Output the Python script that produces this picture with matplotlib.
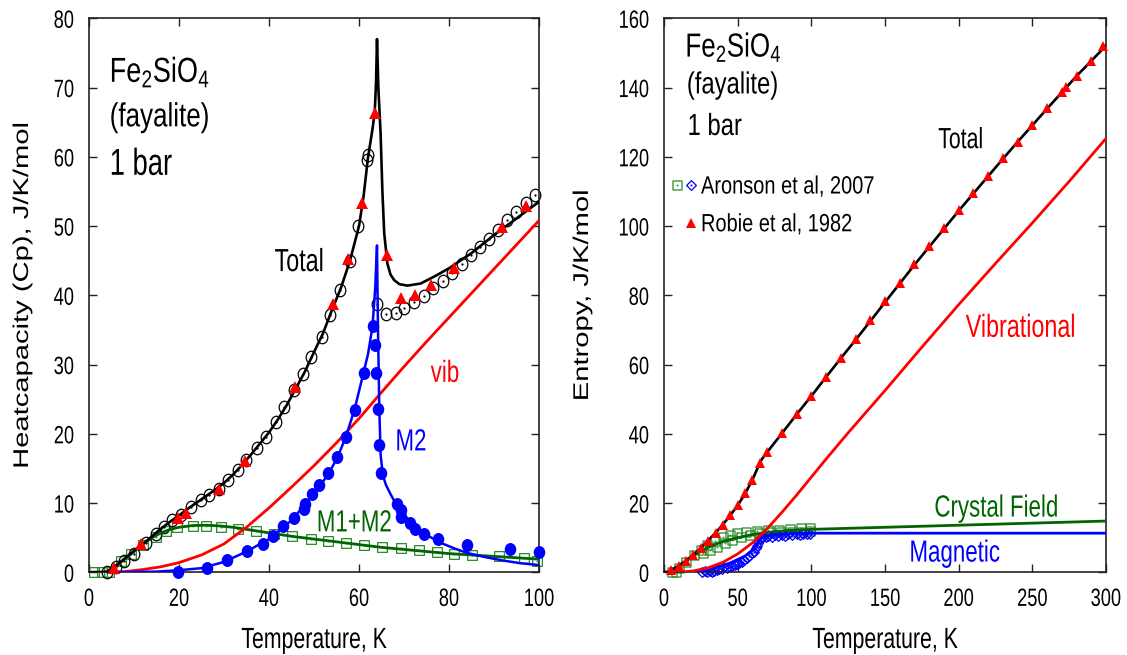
import numpy as np
import matplotlib
matplotlib.use("Agg")
import matplotlib.pyplot as plt
from matplotlib.patheffects import AbstractPathEffect
from matplotlib.transforms import Affine2D
from matplotlib.path import Path
from matplotlib.legend_handler import HandlerTuple
from matplotlib.lines import Line2D

plt.rcParams["font.family"] = ["Liberation Sans", "DejaVu Sans"]
plt.rcParams["mathtext.default"] = "regular"

# ---------------- left panel: heat capacity ----------------
# model curves
tot_T = [0, 3, 4, 6, 8, 10, 12, 14, 16, 18, 20, 22, 24, 26, 28, 30, 32, 34, 36, 38,
         40, 42, 44, 46, 48, 50, 52, 54, 56, 58, 60, 61, 62, 63, 63.5, 63.8, 64.0,
         64.3, 64.8, 65.2, 65.6, 66.3, 67.0, 67.8, 69, 70.8, 73.7, 77, 80, 85, 90, 95, 100]
tot_Cp = [0, 0, 0.1, 1.0, 2.0, 3.1, 4.1, 5.2, 6.3, 7.3, 8.2, 9.2, 10.1, 11.0, 11.9, 12.9,
          14.1, 15.5, 17.0, 18.6, 20.2, 22.1, 24.2, 26.6, 29.0, 31.8, 34.5, 37.9, 41.1,
          45.0, 50.0, 54.2, 59.9, 64.0, 66.5, 71.0, 77.0, 70.0, 63.4, 55.0, 49.0, 44.6,
          43.0, 42.2, 41.6, 41.4, 41.7, 42.8, 43.9, 46.1, 48.7, 51.1, 53.5]

vib_T = [0, 4, 8, 12, 16, 20, 25, 30, 35, 40, 45, 50, 55, 60, 65, 70, 75, 80, 85, 90, 95, 100]
vib_Cp = [0, 0, 0.1, 0.4, 0.8, 1.4, 2.5, 4.1, 6.5, 9.3, 12.3, 15.4, 18.7, 22.2, 26.0,
          29.7, 33.3, 36.8, 40.3, 43.8, 47.3, 50.8]

m2_T = [0, 5, 10, 15, 20, 25, 30, 35, 40, 45, 50, 53, 55, 57, 59, 61, 62, 63, 63.6, 64.0,
        64.2, 64.5, 64.8, 65.3, 66, 67, 68, 70, 72, 75, 78, 81, 84, 88, 92, 96, 100]
m2_Cp = [0, 0, 0.05, 0.1, 0.3, 0.6, 1.5, 3.0, 4.8, 7.5, 11.3, 14.0, 16.3, 19.4, 23.5,
         28.8, 31.5, 35.5, 41.0, 47.2, 36.0, 24.0, 17.0, 14.0, 12.6, 11.3, 10.1, 8.3,
         6.9, 5.4, 4.3, 3.5, 2.8, 2.2, 1.7, 1.3, 1.05]

cf_T = [0, 4, 6, 8, 10, 12, 14, 16, 18, 20, 23, 26, 29, 32, 36, 40, 45, 50, 55, 60, 65,
        70, 75, 80, 85, 90, 95, 100]
cf_Cp = [0, 0.05, 0.8, 2.0, 3.0, 4.1, 5.0, 5.7, 6.2, 6.5, 6.75, 6.8, 6.7, 6.5, 6.1, 5.7,
         5.2, 4.8, 4.4, 4.0, 3.6, 3.3, 3.0, 2.7, 2.5, 2.3, 2.1, 1.9]

# measured points
aro_T = [4.1, 5.9, 7.8, 10.0, 12.6, 14.8, 16.7, 18.5, 20.4, 22.6, 24.8, 26.7, 28.9, 30.8,
         33.0, 34.8, 37.4, 39.3, 41.5, 43.3, 45.6, 47.5, 49.4, 51.8, 53.6, 55.8, 58.0,
         59.8, 61.8, 61.9, 63.9, 65.9, 68.2, 70.1, 72.3, 74.5, 76.5, 78.7, 80.7, 82.9,
         84.9, 86.9, 88.9, 90.8, 92.8, 94.8, 97.0, 99.2]
aro_Cp = [0, 0.8, 1.6, 2.7, 4.3, 5.5, 6.6, 7.6, 8.3, 9.5, 10.4, 11.2, 12.1, 13.3, 14.8,
          16.2, 17.9, 19.6, 21.7, 23.9, 26.3, 28.6, 31.1, 34.0, 37.2, 40.7, 44.9, 50.0,
          59.6, 60.3, 38.7, 37.3, 37.5, 38.1, 39.0, 39.9, 41.0, 42.1, 43.2, 44.5, 45.8,
          47.0, 48.2, 49.5, 50.9, 52.1, 53.3, 54.5]

rob_T = [5.5, 11.5, 19.7, 21.6, 28.9, 34.7, 45.7, 54.2, 57.6, 60.7, 63.5, 66.3, 69.3,
         72.4, 76.1, 81.1, 91.8, 97.2]
rob_Cp = [0.6, 4.1, 7.9, 8.6, 12.0, 16.0, 26.8, 38.7, 45.2, 53.4, 66.3, 45.8, 39.6, 40.0,
          41.5, 44.0, 49.8, 52.9]

m2pt_T = [19.7, 26.2, 30.7, 35.1, 38.7, 40.8, 43.1, 45.5, 47.7, 48.1, 49.6, 51.0, 53.0,
          55.0, 57.2, 59.2, 61.1, 63.1, 63.5, 63.8, 64.2, 64.4, 64.8, 68.4, 69.3, 69.3,
          71.3, 72.4, 74.5, 77.5, 83.9, 93.6, 100.0]
m2pt_Cp = [0, 0.6, 1.8, 3.1, 4.1, 5.3, 6.7, 7.8, 9.2, 9.8, 11.3, 12.6, 14.3, 16.6, 19.6,
           23.5, 28.8, 35.5, 32.8, 28.8, 23.6, 18.4, 14.3, 9.8, 9.0, 8.0, 7.1, 6.2, 5.6,
           4.8, 3.9, 3.3, 2.9]

cfpt_T = [1.0, 2.8, 4.5, 7.0, 9.3, 11.9, 14.8, 17.0, 19.6, 23.0, 25.9, 29.3, 33.0, 37.0,
          41.1, 45.2, 49.3, 53.2, 57.0, 61.1, 65.2, 69.3, 73.3, 77.3, 81.1, 85.2, 91.1,
          96.7, 99.6]
cfpt_Cp = [0, 0, 0.1, 1.6, 2.7, 4.0, 5.1, 6.0, 6.6, 6.7, 6.7, 6.6, 6.2, 5.9, 5.6, 5.2,
           4.8, 4.5, 4.2, 3.9, 3.7, 3.5, 3.2, 2.9, 2.7, 2.5, 2.3, 2.0, 1.6]

# ---------------- right panel: entropy ----------------
stot_T = [0, 3, 5, 10, 15, 20, 25, 30, 35, 40, 45, 50, 55, 60, 63, 65, 67, 70, 80, 90,
          100, 110, 120, 130, 140, 150, 160, 170, 180, 190, 200, 210, 220, 230, 240, 250,
          260, 270, 280, 290, 300]
stot_S = [0, 0.1, 0.6, 1.9, 3.4, 5.0, 7.0, 9.2, 11.4, 13.8, 16.5, 19.3, 22.7, 26.7, 29.6,
          31.7, 33.0, 34.7, 40.1, 45.6, 50.9, 56.4, 61.8, 67.1, 72.5, 78.0, 83.4, 88.8,
          94.0, 99.2, 104.4, 109.4, 114.4, 119.4, 124.3, 129.1, 133.9, 138.6, 143.3,
          147.7, 152.1]

svib_T = [0, 10, 20, 30, 40, 50, 60, 70, 80, 90, 100, 110, 125, 150, 175, 200, 225, 250,
          275, 300]
svib_S = [0, 0.05, 0.4, 1.3, 2.9, 5.3, 8.5, 12.6, 17.3, 22.3, 27.5, 32.7, 40.3, 52.5,
          65.0, 77.3, 89.2, 100.9, 112.9, 125.3]

scf_T = [0, 3, 5, 10, 15, 20, 25, 30, 35, 40, 50, 60, 70, 80, 90, 100, 150, 200, 250, 300]
scf_S = [0, 0, 0.4, 1.8, 3.2, 4.8, 6.1, 7.2, 8.1, 8.9, 10.0, 10.9, 11.5, 11.9, 12.2,
         12.4, 13.0, 13.6, 14.2, 14.8]

smag_T = [0, 20, 25, 30, 35, 40, 45, 50, 55, 60, 63, 65, 67, 72, 85, 100, 300]
smag_S = [0, 0.05, 0.2, 0.6, 1.3, 2.0, 2.7, 3.7, 4.7, 6.3, 7.9, 9.6, 10.3, 10.8, 11.2,
          11.3, 11.3]

srob_T = [5, 10, 15, 20, 25, 30, 35, 40, 45, 50, 55, 60, 65, 70, 80, 90, 100, 110, 120,
          130, 140, 150, 160, 170, 180, 190, 200, 210, 220, 230, 240, 250, 260, 270,
          273.15, 280, 290, 298.15]
srob_S = [0.7, 1.8, 3.4, 5.0, 6.9, 9.1, 11.3, 13.7, 16.5, 19.4, 22.8, 26.7, 31.7, 34.7,
          40.1, 45.6, 50.9, 56.5, 61.8, 67.3, 72.8, 78.4, 83.6, 89.0, 94.2, 99.3, 104.6,
          109.6, 114.5, 119.6, 124.4, 129.2, 134.0, 138.8, 140.1, 143.3, 147.7, 152.0]

scfpt_T = [5.5, 7.9, 10.3, 15.2, 20.2, 25.0, 29.5, 34.4, 39.8, 44.8, 49.7, 55.8, 63.2,
           70.6, 77.9, 85.3, 92.7, 98.8]
scfpt_S = [0.2, 0, 1.2, 3.1, 5.0, 6.4, 7.9, 9.1, 10.1, 10.8, 11.3, 11.7, 12.0, 12.2,
           12.3, 12.4, 12.7, 12.7]
scfpt2_T = [26.3, 31.2, 36.1, 41.1, 46.0, 52.1, 58.3, 64.4, 71.8, 79.2, 86.6, 93.9, 98.8]
scfpt2_S = [5.5, 6.4, 7.4, 8.6, 9.3, 10.1, 10.8, 11.3, 11.6, 11.6, 11.7, 11.7, 12.0]

smagpt_T = [25.6, 29.0, 32.4, 35.8, 39.2, 42.6, 46.0, 49.4, 52.7, 56.1, 59.5, 62.5, 64.0,
            65.2, 67.4, 70.8, 75.4, 79.9, 84.4, 90.1, 94.6, 99.1]
smagpt_S = [0, 0, 0.2, 0.7, 1.0, 1.3, 1.8, 2.4, 3.1, 4.2, 5.5, 6.9, 8.4, 9.6, 10.3, 10.5,
            10.8, 10.8, 11.0, 11.1, 11.1, 11.2]
smagpt2_T = [27.5, 31, 34, 37.5, 41, 44.5, 48, 51, 54.5, 58, 61, 63, 66, 69, 73, 77.5, 82,
             87, 92, 97]
smagpt2_S = [0.3, 0.5, 0.4, 0.9, 1.5, 1.6, 2.0, 2.8, 3.5, 4.6, 6.0, 7.5, 10.0, 10.1, 10.3,
             10.5, 10.6, 10.8, 10.8, 11.0]

RED = "#ff0000"
BLUE = "#0000ff"
GREEN = "#006400"
GREEN_PT = "#2a8a2a"
SX = 0.73


class Squeeze(AbstractPathEffect):
    """Narrow glyphs horizontally (the original output was squashed sideways)."""

    def __init__(self, anchor=None, sx=SX):
        super().__init__()
        self.anchor = anchor
        self.sx = sx

    def draw_path(self, renderer, gc, tpath, affine, rgbFace=None):
        if self.anchor is None:
            x0 = affine.transform_point((0, 0))[0]
        else:
            ext = tpath.get_extents(affine)
            x0 = ext.x0 + self.anchor * ext.width
        sq = Affine2D().translate(-x0, 0).scale(self.sx, 1).translate(x0, 0)
        renderer.draw_path(gc, tpath, affine + sq, rgbFace)


def with_dot(base):
    return Path.make_compound_path(base, Path.circle((0, 0), 0.08))


ellipse = Path.unit_circle().transformed(Affine2D().scale(0.85, 1))
CIRC_DOT = with_dot(ellipse)
BLOB = Path.unit_circle().transformed(Affine2D().scale(0.88, 1))
SQ_DOT = with_dot(Path([(-1, -1), (1, -1), (1, 1), (-1, 1), (-1, -1)],
                       [Path.MOVETO, Path.LINETO, Path.LINETO, Path.LINETO, Path.CLOSEPOLY]))
DI_DOT = with_dot(Path([(0, -1), (1, 0), (0, 1), (-1, 0), (0, -1)],
                       [Path.MOVETO, Path.LINETO, Path.LINETO, Path.LINETO, Path.CLOSEPOLY]))


def label(ax, x, y, s, size, color="black", ha="left", sx=SX):
    t = ax.text(x, y, s, fontsize=size, color=color, ha=ha, va="baseline")
    t.set_path_effects([Squeeze(anchor=None if ha == "left" else 0.5, sx=sx)])
    return t


def style_axes(ax, xlab, ylab, ylab_x):
    ax.tick_params(direction="in", top=True, right=True, length=5.5, width=1.0,
                   labelsize=18, pad=10.5, color="#222222")
    for sp in ax.spines.values():
        sp.set_linewidth(1.2)
        sp.set_color("#222222")
    ax.set_xlabel(xlab, fontsize=21)
    ax.xaxis.label.set_va("baseline")
    ax.xaxis.set_label_coords(0.5, -0.1366)
    ax.set_ylabel(ylab, fontsize=21)
    ax.yaxis.label.set_va("baseline")
    ax.yaxis.set_label_coords(ylab_x, 0.5)
    ax.xaxis.label.set_path_effects([Squeeze(anchor=0.5)])
    ax.yaxis.label.set_path_effects([Squeeze(anchor=None)])
    for t in ax.get_xticklabels():
        t.set_path_effects([Squeeze(anchor=0.5)])
    for t in ax.get_yticklabels():
        t.set_path_effects([Squeeze(anchor=1.0)])


fig = plt.figure(figsize=(11.27, 6.55), dpi=100)
ax1 = fig.add_axes([89 / 1127, 82.7 / 655, 450 / 1127, 554 / 655])
ax2 = fig.add_axes([664 / 1127, 82.7 / 655, 442 / 1127, 554 / 655])

# ---- left ----
ax1.plot(cfpt_T, cfpt_Cp, ls="none", marker=SQ_DOT, ms=7, mfc="none", mec=GREEN_PT,
         mew=0.9, clip_on=False, zorder=2)
ax1.plot(aro_T, aro_Cp, ls="none", marker=CIRC_DOT, ms=9, mfc="none", mec="black",
         mew=0.9, clip_on=False, zorder=2)
ax1.plot(cf_T, cf_Cp, color=GREEN, lw=2.0, zorder=3)
ax1.plot(vib_T, vib_Cp, color=RED, lw=2.0, zorder=3)
ax1.plot(m2_T, m2_Cp, color=BLUE, lw=1.8, zorder=3)
ax1.plot(tot_T, tot_Cp, color="black", lw=1.9, zorder=3)
ax1.plot(m2pt_T, m2pt_Cp, ls="none", marker=BLOB, ms=8.3, color=BLUE, clip_on=False, zorder=4)
ax1.plot(rob_T, rob_Cp, ls="none", marker="^", ms=9, color=RED, mew=0, clip_on=False,
         zorder=5)

ax1.set_xlim(0, 100)
ax1.set_ylim(0, 80)
ax1.set_xticks(range(0, 101, 20))
ax1.set_yticks(range(0, 81, 10))
style_axes(ax1, "Temperature, K", "Heatcapacity (Cp), J/K/mol", -0.1356)

label(ax1, 4.6, 70.8, r"Fe$_2$SiO$_4$", 25, sx=0.78)
label(ax1, 4.6, 64.4, "(fayalite)", 24, sx=0.78)
label(ax1, 4.6, 57.4, "1 bar", 27)
label(ax1, 46.8, 43.5, "Total", 23, ha="center")
label(ax1, 79.1, 27.5, "vib", 22, color=RED, ha="center")
label(ax1, 71.5, 17.6, "M2", 22, color=BLUE, ha="center")
label(ax1, 58.9, 5.9, "M1+M2", 22, color=GREEN, ha="center")

# ---- right ----
ax2.plot(scfpt_T, scfpt_S, ls="none", marker=SQ_DOT, ms=6.5, mfc="none", mec=GREEN_PT,
         mew=0.9, clip_on=False, zorder=2)
ax2.plot(scfpt2_T, scfpt2_S, ls="none", marker=SQ_DOT, ms=6.5, mfc="none", mec=GREEN_PT,
         mew=0.9, clip_on=False, zorder=2)
ax2.plot(smagpt_T, smagpt_S, ls="none", marker=DI_DOT, ms=7, mfc="none", mec=BLUE,
         mew=0.9, clip_on=False, zorder=2)
ax2.plot(smagpt2_T, smagpt2_S, ls="none", marker=DI_DOT, ms=7, mfc="none", mec=BLUE,
         mew=0.9, clip_on=False, zorder=2)
ax2.plot(scf_T, scf_S, color=GREEN, lw=2.0, zorder=3)
ax2.plot(smag_T, smag_S, color=BLUE, lw=2.0, zorder=3)
ax2.plot(svib_T, svib_S, color=RED, lw=2.0, zorder=3)
ax2.plot(stot_T, stot_S, color="black", lw=1.9, zorder=3)
ax2.plot(srob_T, srob_S, ls="none", marker="^", ms=7, color=RED, mew=0, clip_on=False,
         zorder=5)

ax2.set_xlim(0, 300)
ax2.set_ylim(0, 160)
ax2.set_xticks(range(0, 301, 50))
ax2.set_yticks(range(0, 161, 20))
style_axes(ax2, "Temperature, K", "Entropy, J/K/mol", -0.172)

label(ax2, 14.5, 148.9, r"Fe$_2$SiO$_4$", 24, sx=0.78)
label(ax2, 15.5, 138.3, "(fayalite)", 22, sx=0.78)
label(ax2, 16.0, 126.3, "1 bar", 22, sx=0.78)
label(ax2, 201.5, 122.5, "Total", 21, ha="center")
label(ax2, 242.4, 68.0, "Vibrational", 23, color=RED, ha="center")
label(ax2, 225.3, 16.1, "Crystal Field", 22, color=GREEN, ha="center")
label(ax2, 197.0, 3.1, "Magnetic", 22, color=BLUE, ha="center")

h_sq = Line2D([], [], ls="none", marker=SQ_DOT, ms=6.5, mfc="none", mec=GREEN_PT, mew=0.9)
h_di = Line2D([], [], ls="none", marker=DI_DOT, ms=7, mfc="none", mec=BLUE, mew=0.9)
h_tri = Line2D([], [], ls="none", marker="^", ms=7.5, color=RED, mew=0)
h_none = Line2D([], [], ls="none")
leg = ax2.legend([(h_sq, h_di), (h_none, h_tri)],
                 ["Aronson et al, 2007", "Robie et al, 1982"],
                 handler_map={tuple: HandlerTuple(ndivide=None, pad=0)},
                 frameon=False, loc="upper left", bbox_to_anchor=(0.013, 0.718),
                 fontsize=18, handlelength=1.15, handletextpad=0.1, borderpad=0,
                 borderaxespad=0, labelspacing=0.55)
for t in leg.get_texts():
    t.set_path_effects([Squeeze(anchor=None, sx=0.8)])

fig.savefig("out.png", dpi=100)
